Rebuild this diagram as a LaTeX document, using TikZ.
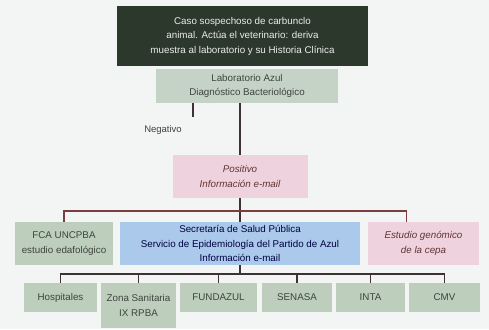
\documentclass[tikz,border=0pt]{standalone}
\usepackage{fontspec}
\setmainfont{Liberation Sans}
\usepackage{xcolor}
\usetikzlibrary{positioning,calc,backgrounds}
\definecolor{pagebg}{RGB}{242,245,244}
\definecolor{casodark}{RGB}{44,56,44}
\definecolor{labgreen}{RGB}{197,211,199}
\definecolor{boxgreen}{RGB}{190,206,188}
\definecolor{boxpink}{RGB}{238,211,222}
\definecolor{boxblue}{RGB}{170,201,235}
\definecolor{linered}{RGB}{122,62,62}
\definecolor{linedark}{RGB}{62,50,50}
\definecolor{txtgray}{RGB}{62,68,62}

\begin{document}
\begin{tikzpicture}[
  x=1pt, y=-1pt,
  basebox/.style={
    rectangle, inner sep=2pt, align=center,
    font=\fontsize{9.8}{14.5}\selectfont, text=txtgray
  },
  casobox/.style={basebox, fill=casodark, text=white!85!gray,
    minimum width=251pt, minimum height=60pt},
  labbox/.style={basebox, fill=labgreen, minimum height=34pt},
  greenbox/.style={basebox, fill=boxgreen, minimum height=43pt},
  pinkbox/.style={basebox, fill=boxpink, minimum height=43pt,
    font=\fontsize{9.8}{14.5}\selectfont\itshape, text=black!70!red!60!gray},
  bluebox/.style={basebox, fill=boxblue, minimum height=43pt,
    text=black!75!blue},
  leafbox/.style={basebox, fill=boxgreen, minimum height=29pt},
  vline/.style={line width=1.2pt, color=linedark},
  redbus/.style={line width=1.2pt, color=linered},
  darkbus/.style={line width=1.7pt, color=linedark},
  lbl/.style={font=\fontsize{9.5}{11}\selectfont, text=txtgray}
]
\fill[pagebg] (0,0) rectangle (489,329);
\useasboundingbox (0,0) rectangle (489,329);

\node[casobox] (caso) at (242.5,36)
  {Caso sospechoso de carbunclo\\animal. Actúa el veterinario: deriva\\muestra al laboratorio y su Historia Clínica};

\node[labbox, minimum width=182pt] (lab) at (247,86)
  {Laboratorio Azul\\Diagnóstico Bacteriológico};

\node[pinkbox, minimum width=135pt] (pos) at (240,176.5)
  {Positivo\\Información e-mail};

\node[greenbox, minimum width=98pt] (fca) at (64,243.5)
  {FCA UNCPBA\\estudio edafológico};
\node[bluebox, minimum width=240pt] (sec) at (240,243.5)
  {Secretaría de Salud Pública\\Servicio de Epidemiología del Partido de Azul\\Información e-mail};
\node[pinkbox, minimum width=111pt] (est) at (423.5,243.5)
  {Estudio genómico\\de la cepa};

\node[leafbox, minimum width=73pt] (hosp) at (60.5,297.5) {Hospitales};
\node[leafbox, minimum width=75pt, minimum height=45pt] (zona) at (138.5,305.5)
  {Zona Sanitaria\\IX RPBA};
\node[leafbox, minimum width=77pt] (fund) at (218.5,297.5) {FUNDAZUL};
\node[leafbox, minimum width=70pt] (senasa) at (297,297.5) {SENASA};
\node[leafbox, minimum width=69pt] (inta) at (370.5,297.5) {INTA};
\node[leafbox, minimum width=71pt] (cmv) at (444.5,297.5) {CMV};

% resultado del laboratorio
\coordinate (neg) at (193,117);
\draw[vline] (lab.south -| neg) -- (neg);
\node[lbl] (negtxt) at (163,130) {Negativo};
\draw[vline] (lab.south -| pos.north) -- (pos.north);

% primer nivel
\coordinate (bus1) at (240,211);
\draw[vline] (pos.south) -- (sec.north);
\draw[redbus] (fca.north) |- (bus1) -| ([xshift=-17pt]est.north);

% segundo nivel
\coordinate (bus2) at (240,274);
\draw[vline] (sec.south) -- (bus2);
\draw[darkbus] (hosp.north) |- (bus2) -| (cmv.north);
\foreach \n in {zona,fund,senasa,inta}
  \draw[darkbus] (\n.north) -- (\n.north |- bus2);

\end{tikzpicture}
\end{document}
